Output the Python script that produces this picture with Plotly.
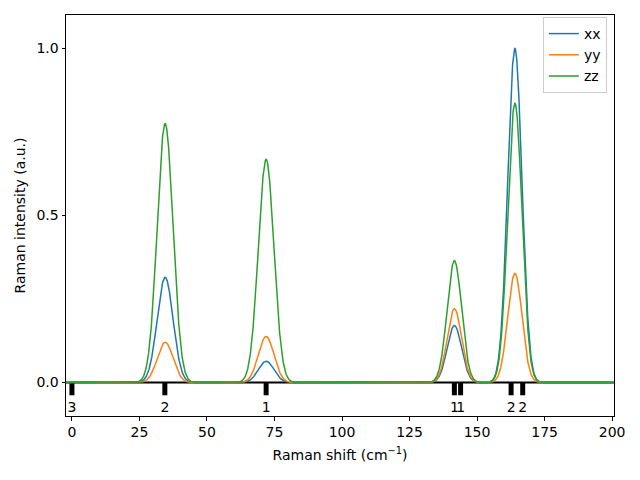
import numpy as np
import plotly.graph_objects as go

# ---- data ----
series_names = ["xx", "yy", "zz"]
series_colors = ["#1f77b4", "#ff7f0e", "#2ca02c"]

# broadened peaks (centre in cm^-1, FWHM in cm^-1) and heights per series
peak_centers = [34.5, 71.9, 141.6, 164.0]
peak_fwhm = [6.9, 6.8, 6.3, 6.2]
xx_heights = [0.315, 0.064, 0.171, 1.0]
yy_heights = [0.121, 0.138, 0.221, 0.327]
zz_heights = [0.775, 0.668, 0.365, 0.836]

# phonon mode sticks and degeneracy labels
mode_freqs = [0.0, 34.4, 71.9, 141.6, 143.9, 162.6, 166.9]
mode_degeneracy = ["3", "2", "1", "1", "1", "2", "2"]

x_ticks = [0, 25, 50, 75, 100, 125, 150, 175, 200]
y_ticks = [0.0, 0.5, 1.0]
y_tick_text = ["0.0", "0.5", "1.0"]

# ---- build ----
grid = np.linspace(-5, 205, 3000)


def spectrum(heights):
    total = np.zeros_like(grid)
    for c, w, h in zip(peak_centers, peak_fwhm, heights):
        s = w / 2.3548
        total += h * np.exp(-0.5 * ((grid - c) / s) ** 2)
    return total


fig = go.Figure()

# zero baseline (black)
fig.add_trace(go.Scatter(x=[-5, 205], y=[0, 0], mode="lines",
                         line=dict(color="black", width=2),
                         showlegend=False, hoverinfo="skip"))

# mode sticks
fig.add_trace(go.Bar(x=mode_freqs, y=[-0.038] * len(mode_freqs), base=0,
                     width=1.85, marker=dict(color="black", line=dict(width=0)),
                     showlegend=False, hoverinfo="skip"))

for name, color, h in zip(series_names, series_colors,
                          [xx_heights, yy_heights, zz_heights]):
    fig.add_trace(go.Scatter(x=grid, y=spectrum(h), mode="lines", name=name,
                             line=dict(color=color, width=1.5)))

# degeneracy labels
fig.add_trace(go.Scatter(x=mode_freqs, y=[-0.077] * len(mode_freqs), mode="text",
                         text=mode_degeneracy,
                         textfont=dict(family="DejaVu Sans", size=14, color="black"),
                         showlegend=False, hoverinfo="skip", cliponaxis=False))

axis_common = dict(showgrid=False, zeroline=False, showline=True, mirror=True,
                   linecolor="black", linewidth=1, ticks="outside", ticklen=3.5,
                   tickwidth=0.8, tickcolor="black",
                   tickfont=dict(family="DejaVu Sans", size=14, color="black"))

fig.update_layout(
    width=640, height=480, autosize=False,
    margin=dict(l=66, r=26, t=15, b=64),
    paper_bgcolor="white", plot_bgcolor="white",
    font=dict(family="DejaVu Sans", size=14, color="black"),
    barmode="overlay",
    xaxis=dict(range=[-2.2, 200.7], tickvals=x_ticks,
               title=dict(text="Raman shift (cm<sup>−1</sup>)", standoff=10,
                          font=dict(family="DejaVu Sans", size=14, color="black")),
               **axis_common),
    yaxis=dict(range=[-0.1, 1.1], tickvals=y_ticks, ticktext=y_tick_text,
               title=dict(text="Raman intensity (a.u.)", standoff=7,
                          font=dict(family="DejaVu Sans", size=14, color="black")),
               **axis_common),
    legend=dict(x=0.987, y=0.995, xanchor="right", yanchor="top",
                bgcolor="rgba(255,255,255,0.8)", bordercolor="#cccccc",
                borderwidth=1, font=dict(family="DejaVu Sans", size=14),
                tracegroupgap=0, itemwidth=30),
    showlegend=True,
)

fig.write_html("out.html")
